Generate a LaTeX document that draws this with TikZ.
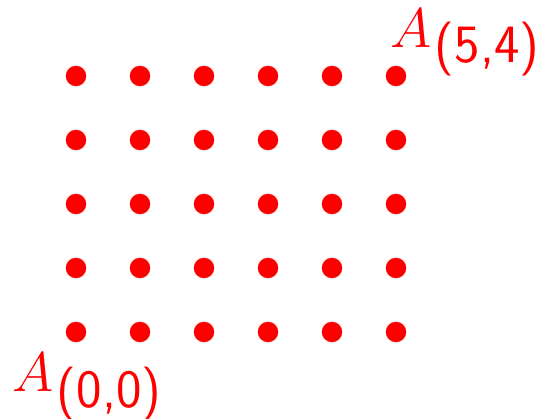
\documentclass[tikz,border=0pt]{standalone}
\usepackage{amsmath,amssymb}
\usepackage{xcolor}
\usepackage{tikz}
\usetikzlibrary{positioning, calc}

\newcommand{\gridlabel}[1]{$A$\kern1.5pt\raisebox{-7pt}{\fontsize{24}{28}\selectfont\sffamily(#1)}}

\begin{document}
\begin{tikzpicture}[
  pt/.style={circle, fill=red, inner sep=0pt, minimum size=0.32cm},
  lbl/.style={red, inner sep=0pt, font=\fontsize{23}{28}\selectfont},
]
\useasboundingbox (-1.1875,-1.359) rectangle (7.2656,5.1875);

\foreach \i in {0,...,5}
  \foreach \j in {0,...,4}
    \node[pt] (p-\i-\j) at (\i,\j) {};

\node[lbl, anchor=base west] (a00) at (-1.0,-0.9375) {\gridlabel{0,0}};
\node[lbl, anchor=base west] (a54) at (4.906,4.453) {\gridlabel{5,4}};
\end{tikzpicture}
\end{document}
